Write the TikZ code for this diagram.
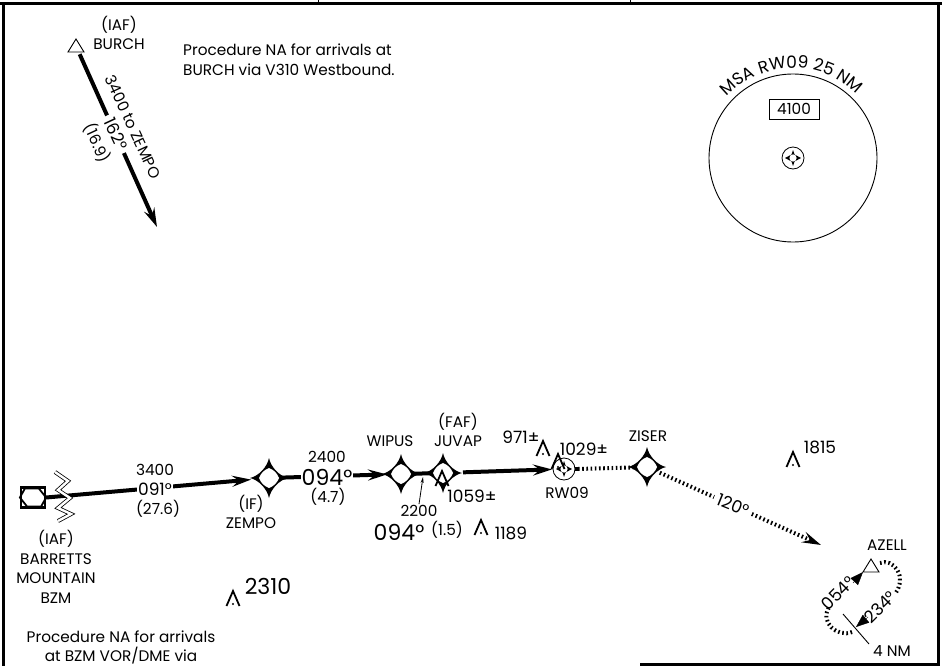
\documentclass[tikz,border=0pt]{standalone}
\usepackage{fontspec}
\setmainfont{Poppins}
\usetikzlibrary{
    arrows.meta,
    decorations.text,
    calc
}
\newcommand{\msafont}{\fontsize{17}{17}\selectfont}
\tikzset {
    frame line/.style = {line width = 3pt},
    thick leg/.style = {line width = 4pt},
    dotted leg/.style = {line width = 4pt, dash pattern = on 1.6pt off 2.6pt},
    double line/.style = {double distance = 2.4pt, line width = 0.8pt},
    leg arrow/.style = {-{Stealth[length = 19pt, width = 11pt, inset = 7pt]}},
    wedge arrow/.style = {-{Stealth[length = 13pt, width = 10pt, inset = 0pt]}},
    small text/.style = {font = \fontsize{15.3}{19.5}\selectfont, inner sep = 1pt, align = center},
    course text/.style = {font = \fontsize{17}{17}\selectfont, inner sep = 1pt},
    obst text/.style = {font = \fontsize{17}{17}\selectfont, inner sep = 1pt},
    big text/.style = {font = \fontsize{22}{22}\selectfont, inner sep = 1pt},
    huge text/.style = {font = \fontsize{22}{22}\selectfont, inner sep = 1pt},
    gap/.style = {fill = white, inner sep = 2pt},
    %
    fix/.pic = {
        \fill (0, 20pt) .. controls (2pt, 10.5pt) and (10.5pt, 2pt) .. (19pt, 0)
            .. controls (10.5pt, -2pt) and (2pt, -10.5pt) .. (0, -20pt)
            .. controls (-2pt, -10.5pt) and (-10.5pt, -2pt) .. (-19pt, 0)
            .. controls (-10.5pt, 2pt) and (-2pt, 10.5pt) .. (0, 20pt) -- cycle;
        \fill [white] (0, 10pt) .. controls (5pt, 8pt) and (8pt, 5pt) .. (10pt, 0)
            .. controls (8pt, -5pt) and (5pt, -8pt) .. (0, -10pt)
            .. controls (-5pt, -8pt) and (-8pt, -5pt) .. (-10pt, 0)
            .. controls (-8pt, 5pt) and (-5pt, 8pt) .. (0, 10pt) -- cycle;
    },
    ring fix/.pic = {
        \draw [fill = white, line width = 0.8pt] (0, 0) circle [radius = 11pt];
        \fill (0, 8pt) -- (1.5pt, 3.5pt) -- (8pt, 0) -- (1.5pt, -3.5pt) -- (0, -8pt)
            -- (-1.5pt, -3.5pt) -- (-8pt, 0) -- (-1.5pt, 3.5pt) -- cycle;
        \fill [white] (0, 0) circle [radius = 3.6pt];
    },
    obstacle/.pic = {
        \draw [line width = 1.8pt] (-6.5pt, -7pt) -- (0, 8pt) -- (6.5pt, -7pt);
        \fill (0, -5pt) circle [radius = 1.1pt];
    },
    iaf triangle/.pic = {
        \draw [fill = white, line width = 0.9pt] (-8pt, -6pt) -- (0, 7pt) -- (8pt, -6pt) -- cycle;
    }
}
\begin{document}
\begin{tikzpicture}[x = 1pt, y = -1pt]
    \useasboundingbox (0, 0) rectangle (942, 666);
    \clip (0, 0) rectangle (942, 666);
    % frame
    \draw [line width = 1pt] (318, 0) -- (318, 4);
    \draw [line width = 1pt] (630, 0) -- (630, 4);
    \draw [frame line] (0, 4) -- (942, 4);
    \draw [frame line] (3, 4) -- (3, 666);
    \draw [frame line] (938, 4) -- (938, 664) -- (640, 664);
    % positions
    \coordinate (burch) at (76, 46);
    \coordinate (burchend) at (157, 227);
    \coordinate (zempo) at (269, 478);
    \coordinate (wipus) at (401, 474);
    \coordinate (juvap) at (443, 473);
    \coordinate (rw09) at (564, 469);
    \coordinate (ziser) at (647, 467);
    \coordinate (azellend) at (821, 545);
    \coordinate (azell) at (871, 566);
    \coordinate (msa) at (793, 158);
    \node (bzm) [draw, line width = 2.2pt, minimum width = 24pt, minimum height = 20pt, inner sep = 0pt] at (33, 497.5) {};
    % burch leg
    \draw [thick leg, leg arrow, shorten < = 9pt] (burch) -- (burchend);
    \node (course1) [course text, gap, inner sep = 4pt, rotate = -65] at (116, 134) {162°};
    \node (alt1) [small text, rotate = -65] at (133, 127) {3400 to ZEMPO};
    \node (dist1) [small text, rotate = -65] at (97, 143) {(16.9)};
    \pic at (burch) {iaf triangle};
    \node (burchlabel) [small text] at (119, 33) {(IAF)\\BURCH};
    \node (note1) [small text, anchor = west, align = left] at (182, 59.5) {Procedure NA for arrivals at\\BURCH via V310 Westbound.};
    % msa
    \node (msacircle) [draw, circle, line width = 0.9pt, minimum size = 168pt, inner sep = 0pt] at (msa) {};
    \path [decorate, decoration = {text along path, text align = center, text = {|\msafont|MSA RW09 25 NM}}]
        ($ (msa) + (146:90pt) $) arc [start angle = 146, end angle = 36, radius = 90pt];
    \node (msaalt) [draw, small text, line width = 0.9pt, minimum width = 50pt, minimum height = 20pt] at (794, 109) {4100};
    \pic at (msa) {ring fix};
    % approach legs
    \draw [thick leg, leg arrow, shorten > = 18pt] (bzm.east) -- (zempo);
    \draw [thick leg, leg arrow, shorten > = 14pt] (zempo) -- (wipus);
    \draw [thick leg] (wipus) -- (juvap);
    \draw [thick leg, leg arrow, shorten < = 20pt, shorten > = 12pt] (juvap) -- (rw09);
    \draw [thick leg] (rw09) -- ++(14, 0);
    \draw [dotted leg] (rw09) ++(14, 0) -- (ziser);
    \draw [dotted leg, leg arrow, shorten < = 14pt] (ziser) -- (azellend);
    \draw [double line] (55, 472) -- (68, 481) -- (58, 490) -- (70, 498) -- (58, 508) -- (71, 514) -- (58, 521);
    \draw [line width = 1.8pt] (bzm.west) -- ++(5, -9) -- ++(14, 0) -- (bzm.east) -- ++(-5, 9) -- ++(-14, 0) -- cycle;
    % symbols
    \pic at (zempo) {fix};
    \pic at (wipus) {fix};
    \pic at (juvap) {fix};
    \pic at (ziser) {fix};
    \pic at (rw09) {ring fix};
    \pic at (233, 599) {obstacle};
    \pic at (481, 528) {obstacle};
    \pic at (442, 479) {obstacle};
    \pic at (543, 449) {obstacle};
    \pic at (558, 462) {obstacle};
    \pic at (793, 460) {obstacle};
    % labels
    \node (alt2) [small text] at (155, 470) {3400};
    \node (course2) [course text, gap, inner sep = 1pt] at (155, 489) {091°};
    \node (dist2) [small text] at (158, 509) {(27.6)};
    \node (bzmlabel) [small text] at (56, 567) {(IAF)\\BARRETTS\\MOUNTAIN\\BZM};
    \node (zempolabel) [small text] at (251, 512) {(IF)\\ZEMPO};
    \node (alt3) [small text] at (327, 457) {2400};
    \node (course3) [huge text, gap, inner sep = 1pt] at (327, 477) {094°};
    \node (dist3) [small text] at (328, 497) {(4.7)};
    \node (wipuslabel) [small text] at (390, 441) {WIPUS};
    \node (juvaplabel) [small text] at (458, 430) {(FAF)\\JUVAP};
    \node (alt4) [small text] at (419, 511) {2200};
    \draw [line width = 0.8pt, -{Stealth[length = 6pt, width = 3pt]}] (alt4.north) -- (423, 477);
    \node (course4) [huge text] at (399, 532) {094°};
    \node (dist4) [small text] at (447, 530) {(1.5)};
    \node (rwlabel) [small text] at (567, 493) {RW09};
    \node (ziserlabel) [small text] at (648, 436) {ZISER};
    \node (course5) [course text, gap, inner sep = 4pt, rotate = -22] at (733, 505) {120°};
    \node (obst1) [big text] at (268, 586) {2310};
    \node (obst2) [obst text] at (511, 533) {1189};
    \node (obst3) [obst text] at (472, 496) {1059±};
    \node (obst4) [obst text] at (521, 437) {971±};
    \node (obst5) [obst text] at (584, 449) {1029±};
    \node (obst6) [obst text] at (820, 447) {1815};
    \node (note2) [small text] at (121, 654.5) {Procedure NA for arrivals\\at BZM VOR/DME via\\[-3pt]radial 270 CW 12};
    % holding
    \node (azelllabel) [small text] at (887, 545) {AZELL};
    \coordinate (holda) at (880, 563);
    \coordinate (holdb) at (895, 594);
    \coordinate (holdc) at (852, 632);
    \coordinate (holdd) at (830, 606);
    \draw [dotted leg] (holda) .. controls (893, 558) and (908, 576) .. (holdb);
    \draw [dotted leg] (holdc) .. controls (838, 638) and (818, 622) .. (holdd);
    \draw [wedge arrow] (853, 583) -- (863, 572);
    \draw [wedge arrow] (868, 617) -- (856, 627);
    \draw [line width = 0.9pt] (843, 614) -- (869, 644);
    \pic at (azell) {iaf triangle};
    \node (hold1) [course text, rotate = 45] at (838, 593) {054°};
    \node (hold2) [course text, rotate = 45] at (880, 607) {234°};
    \node (holddist) [small text] at (892, 651) {4 NM};
\end{tikzpicture}
\end{document}
